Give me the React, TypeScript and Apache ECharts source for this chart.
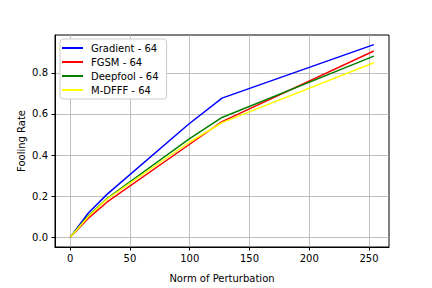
import React, { useEffect, useRef } from "react";
import * as echarts from "echarts";

const xValues = [0, 15, 31, 99, 127, 254];
const gradient = [0.0, 0.117, 0.21, 0.55, 0.677, 0.937];
const fgsm = [0.0, 0.092, 0.172, 0.449, 0.563, 0.906];
const deepfool = [0.0, 0.104, 0.19, 0.476, 0.583, 0.881];
const mdfff = [0.0, 0.1, 0.187, 0.46, 0.558, 0.849];
const xTicks = [0, 50, 100, 150, 200, 250];
const yTicks = [0, 0.2, 0.4, 0.6, 0.8];

const seriesDefs = [
  { name: "Gradient - 64", data: gradient, color: "#0000ff" },
  { name: "FGSM - 64", data: fgsm, color: "#ff0000" },
  { name: "Deepfool - 64", data: deepfool, color: "#008000" },
  { name: "M-DFFF - 64", data: mdfff, color: "#ffff00" },
];

const FONT = "DejaVu Sans";

export default function App() {
  const ref = useRef<HTMLDivElement>(null);
  useEffect(() => {
    if (!ref.current) return;
    const chart = echarts.init(ref.current, undefined, { renderer: "svg" });
    chart.setOption({
      animation: false,
      backgroundColor: "#ffffff",
      textStyle: { fontFamily: FONT },
      grid: {
        left: 55,
        right: 43,
        top: 35,
        bottom: 36,
        show: true,
        borderColor: "#000",
        borderWidth: 1,
        backgroundColor: "transparent",
      },
      legend: {
        orient: "vertical",
        left: 60,
        top: 39,
        padding: [4, 8, 4, 2],
        itemGap: 4,
        itemWidth: 21,
        itemHeight: 2,
        icon: "rect",
        backgroundColor: "#fff",
        borderColor: "#cccccc",
        borderWidth: 1,
        borderRadius: 3,
        textStyle: { fontFamily: FONT, fontSize: 10, color: "#000", padding: [0, 0, 0, 3] },
        data: seriesDefs.map((s) => ({ name: s.name, itemStyle: { color: s.color } })),
      },
      xAxis: {
        type: "value",
        min: -12.7,
        max: 266.7,
        name: "Norm of Perturbation",
        nameLocation: "middle",
        nameGap: 26,
        nameMoveOverlap: false,
        nameTextStyle: { fontFamily: FONT, fontSize: 10, color: "#000" },
        axisLine: { show: true, onZero: false, lineStyle: { color: "#000", width: 1 } },
        axisTick: { show: true, length: 3.5, customValues: xTicks, lineStyle: { color: "#000" } },
        axisLabel: {
          customValues: xTicks,
          fontFamily: FONT,
          fontSize: 10,
          color: "#000",
          margin: 6,
          formatter: (v: number) => String(v),
        },
        splitLine: { show: true, lineStyle: { color: "#b0b0b0", width: 0.8 } },
      },
      yAxis: {
        type: "value",
        min: -0.047,
        max: 0.984,
        name: "Fooling Rate",
        nameLocation: "middle",
        nameGap: 29,
        nameMoveOverlap: false,
        nameTextStyle: { fontFamily: FONT, fontSize: 10, color: "#000" },
        axisLine: { show: true, onZero: false, lineStyle: { color: "#000", width: 1 } },
        axisTick: { show: true, length: 3.5, customValues: yTicks, lineStyle: { color: "#000" } },
        axisLabel: {
          customValues: yTicks,
          fontFamily: FONT,
          fontSize: 10,
          color: "#000",
          margin: 7,
          formatter: (v: number) => v.toFixed(1),
        },
        splitLine: { show: true, lineStyle: { color: "#b0b0b0", width: 0.8 } },
      },
      series: seriesDefs.map((s) => ({
        name: s.name,
        type: "line",
        data: xValues.map((x, i) => [x, s.data[i]]),
        showSymbol: false,
        symbol: "none",
        color: s.color,
        lineStyle: { color: s.color, width: 1.5 },
      })),
    });
    return () => chart.dispose();
  }, []);
  return <div ref={ref} style={{ width: 432, height: 288, position: "absolute", left: 0, top: 0 }} />;
}
